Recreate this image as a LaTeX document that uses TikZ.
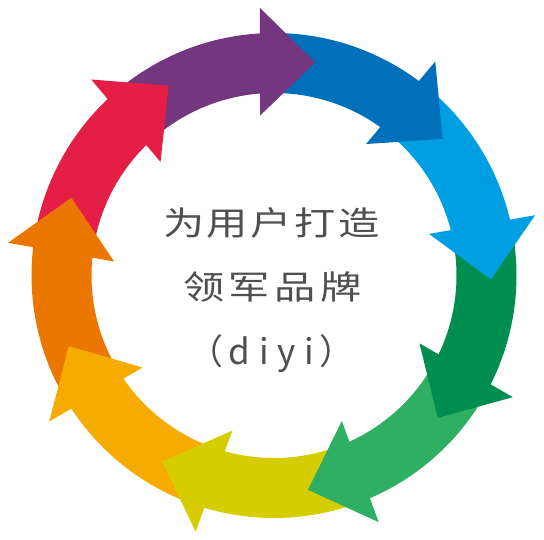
\documentclass[tikz,border=0pt]{standalone}
\usepackage{fontspec}
\newfontfamily\cjk{Noto Sans CJK SC}
\definecolor{cpurple}{HTML}{73367F}
\definecolor{cblue}{HTML}{0070BA}
\definecolor{ccyan}{HTML}{009EE2}
\definecolor{cdgreen}{HTML}{008E50}
\definecolor{clgreen}{HTML}{2EAF63}
\definecolor{colive}{HTML}{D6CD00}
\definecolor{camber}{HTML}{F5AB00}
\definecolor{corange}{HTML}{EC7700}
\definecolor{cred}{HTML}{E41E45}
\definecolor{ctext}{HTML}{4F4F4F}
\tikzset{
  ringtext/.style={text=ctext, inner sep=0pt, font=\cjk}
}
\begin{document}
\begin{tikzpicture}[x=1pt,y=1pt]
\useasboundingbox (0,0) rectangle (544,540);
\begin{scope}[shift={(274,264.5)}]
  % bodies (each ends inside its own head, starts inside the previous head)
  \foreach \t/\c in {79/cpurple,39/cblue,-1/ccyan,-41/cdgreen,-81/clgreen,-121/colive,-161/camber,-201/corange,-241/cred}{
    \fill[\c] ({\t+53}:242.5pt) arc[start angle={\t+53}, end angle={\t+11}, radius=242.5pt]
      -- ({\t+11}:182.5pt) arc[start angle={\t+11}, end angle={\t+53}, radius=182.5pt] -- cycle;
  }
  % heads
  \foreach \t/\c in {79/cpurple,39/cblue,-1/ccyan,-41/cdgreen,-81/clgreen,-121/colive,-161/camber,-201/corange,-241/cred}{
    \fill[\c] ({\t+14}:268pt) -- (\t:217pt) -- ({\t+16}:160.5pt) -- cycle;
  }
\end{scope}
\node[ringtext] (l1) at (271.5,317.5) {\scalebox{1.25}[1]{\fontsize{33}{33}\selectfont\hbox to 173.6pt{为\hfill 用\hfill 户\hfill 打\hfill 造}}};
\node[ringtext] (l2) at (272.5,253) {\scalebox{1.25}[1]{\fontsize{33}{33}\selectfont\hbox to 143.2pt{领\hfill 军\hfill 品\hfill 牌}}};
\node[ringtext] (l3) at (271.5,186.5) {\fontsize{35}{35}\selectfont （\kern5pt d\kern9pt i\kern9pt y\kern9pt i\kern5pt ）};
\end{tikzpicture}
\end{document}
